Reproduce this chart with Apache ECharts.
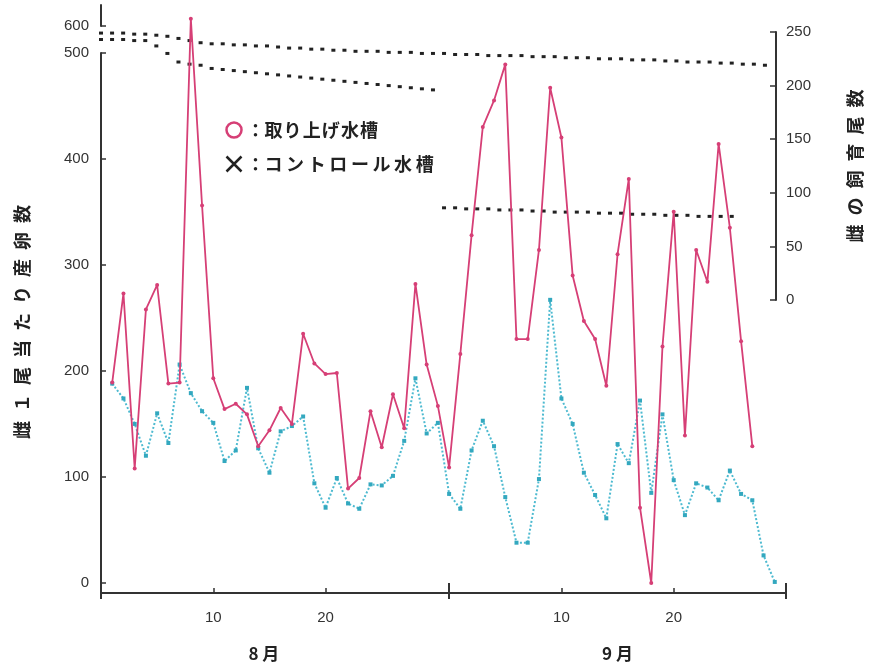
<!DOCTYPE html>
<html>
<head>
<meta charset="utf-8">
<script src="https://cdn.jsdelivr.net/npm/echarts@6/dist/echarts.min.js"></script>
<style>
  html, body { margin: 0; padding: 0; background: #fff; }
  #chart { width: 872px; height: 666px; }
</style>
</head>
<body>
<div id="chart"></div>
<script>
// 通し日: 8/1 = 1 ... 8/31 = 31, 9/1 = 32 ... 9/30 = 61
const xMin = 0
const xMax = 61
const monthEdge = 31
const dayTicks = [10, 20, 41, 51]
const edgeTicks = [0, 31, 61]
const monthLabelPos = [14.5, 46]
const monthLabels = ['8 月', '9 月']
const eggTicks = [0, 100, 200, 300, 400, 500, 600]

// 雌1尾当たり産卵数 (左軸)
const treatFirstDay = 1
const treatEggs = [189, 273, 108, 258, 281, 188, 189, 607, 356, 193, 164, 169, 159, 129, 144, 165,
  150, 235, 207, 197, 198, 89, 99, 162, 128, 178, 146, 282, 206, 167, 109, 216, 328, 430, 455, 489,
  230, 230, 314, 467, 420, 290, 247, 230, 186, 310, 381, 71, 0, 223, 350, 139, 314, 284, 414, 335,
  228, 129]
const ctrlFirstDay = 1
const ctrlEggs = [188, 174, 150, 120, 160, 132, 206, 179, 162, 151, 115, 125, 184, 127, 104, 143,
  148, 157, 94, 71, 99, 75, 70, 93, 92, 101, 134, 193, 141, 151, 84, 70, 125, 153, 129, 81, 38, 38,
  98, 267, 174, 150, 104, 83, 61, 131, 113, 172, 85, 159, 97, 64, 94, 90, 78, 106, 84, 78, 26, 1]

// 雌の飼育尾数 (右軸)
const ctrlFishFirstDay = 0
const ctrlFish = [249, 249, 249, 248, 248, 247, 246, 244, 242, 240, 239, 239, 238, 238, 237, 237,
  236, 235, 235, 234, 234, 233, 233, 232, 232, 232, 231, 231, 231, 230, 230, 230, 229, 229, 229,
  228, 228, 228, 228, 227, 227, 227, 226, 226, 226, 225, 225, 225, 224, 224, 224, 223, 223, 222,
  222, 222, 221, 221, 220, 220, 219]
const treatFishAugFirstDay = 0
const treatFishAug = [243, 243, 243, 242, 242, 237, 230, 222, 220, 219, 216, 215, 214, 213, 212,
  211, 210, 209, 208, 207, 206, 205, 204, 203, 202, 201, 200, 199, 198, 197, 196]
const treatFishSepFirstDay = 31
const treatFishSep = [86, 86, 85, 85, 85, 84, 84, 84, 83, 83, 82, 82, 82, 82, 81, 81, 81, 80, 80,
  80, 79, 79, 79, 78, 78, 78, 78]

const toPoints = (first, vals) => vals.map((v, i) => [first + i, v])

const axisColor = '#333'
const pink = '#d63f76'
const cyan = '#4dbad0'
const numFont = { color: '#333', fontSize: 15, fontFamily: 'Liberation Sans, Arial, sans-serif' }
const jpFont = 'Noto Sans CJK JP'

const chart = echarts.init(document.getElementById('chart'))

const fishSeries = (name, first, vals) => ({
  name,
  type: 'line',
  xAxisIndex: 2,
  yAxisIndex: 1,
  data: toPoints(first, vals),
  symbol: 'rect',
  symbolSize: [4, 3],
  itemStyle: { color: '#222' },
  lineStyle: { width: 0 },
  z: 3
})

// 凡例の文字間を少し広げる
const legendSpacing = { '取り上げ水槽': '\u200A', 'コントロール水槽': '\u2009' }

chart.setOption({
  animation: false,
  grid: [
    { left: 101, right: 86, top: 5, bottom: 83 },
    { left: 101, right: 88, top: 32, bottom: 366 }
  ],
  legend: {
    orient: 'vertical',
    left: 219,
    top: 116,
    itemGap: 15,
    itemWidth: 15,
    itemHeight: 15,
    selectedMode: false,
    textStyle: { fontSize: 18, fontWeight: 'bold', color: '#222', fontFamily: jpFont },
    formatter: name => '：' + name.split('').join(legendSpacing[name]),
    data: [
      { name: '取り上げ水槽', icon: 'circle',
        itemStyle: { color: '#fff', borderColor: pink, borderWidth: 2.5 } },
      { name: 'コントロール水槽', icon: 'path://M0,0L10,10M10,0L0,10',
        itemStyle: { color: 'none', borderColor: '#222', borderWidth: 2.5 } }
    ]
  },
  graphic: [{
    type: 'text',
    x: 22,
    y: 322,
    rotation: Math.PI / 2,
    style: {
      text: '雌\u2002１\u2002尾\u2002当\u2002た\u2002り\u2002産\u2002卵\u2002数',
      align: 'center',
      verticalAlign: 'middle',
      font: 'bold 18px "Noto Sans CJK JP"',
      fill: '#222'
    }
  }],
  xAxis: [
    {
      gridIndex: 0, type: 'value', min: xMin, max: xMax, position: 'bottom', offset: 10,
      axisLine: { onZero: false, lineStyle: { color: axisColor, width: 2 } },
      axisTick: { inside: true, length: 5, customValues: dayTicks, lineStyle: { color: axisColor, width: 1.5 } },
      axisLabel: { customValues: dayTicks, margin: 17, formatter: v => String(v > monthEdge ? v - monthEdge : v), ...numFont },
      splitLine: { show: false }
    },
    {
      gridIndex: 0, type: 'value', min: xMin, max: xMax, position: 'bottom', offset: 10,
      axisLine: { show: false },
      axisTick: { length: 16, customValues: edgeTicks, lineStyle: { color: axisColor, width: 2 } },
      axisLabel: {
        customValues: monthLabelPos, margin: 52,
        formatter: v => monthLabels[monthLabelPos.indexOf(v)],
        fontSize: 17, fontWeight: 'bold', color: '#222', fontFamily: jpFont
      },
      splitLine: { show: false }
    },
    { gridIndex: 1, type: 'value', min: xMin, max: xMax, show: false }
  ],
  yAxis: [
    {
      gridIndex: 0, type: 'value', min: 0, max: 620, position: 'left',
      breaks: [{ start: 500, end: 600, gap: 25 }],
      breakArea: { show: false },
      axisLine: { show: true, onZero: false, lineStyle: { color: axisColor, width: 2 } },
      axisTick: { show: true, inside: true, length: 5, customValues: eggTicks, lineStyle: { color: axisColor, width: 1.5 } },
      axisLabel: { customValues: eggTicks, margin: 12, ...numFont },
      splitLine: { show: false }
    },
    {
      gridIndex: 1, type: 'value', min: 0, max: 250, interval: 50, position: 'right',
      name: '雌\u2002の\u2002飼\u2002育\u2002尾\u2002数',
      nameLocation: 'middle', nameRotate: 90, nameGap: 70,
      nameTextStyle: { fontSize: 18, fontWeight: 'bold', color: '#222', fontFamily: jpFont },
      axisLine: { show: true, onZero: false, lineStyle: { color: axisColor, width: 2 } },
      axisTick: { show: true, inside: true, length: 6, lineStyle: { color: axisColor, width: 1.5 } },
      axisLabel: { margin: 10, ...numFont },
      splitLine: { show: false }
    }
  ],
  series: [
    fishSeries('対照尾数', ctrlFishFirstDay, ctrlFish),
    fishSeries('取り上げ尾数8月', treatFishAugFirstDay, treatFishAug),
    fishSeries('取り上げ尾数9月', treatFishSepFirstDay, treatFishSep),
    {
      name: 'コントロール水槽',
      type: 'line',
      xAxisIndex: 0,
      yAxisIndex: 0,
      data: toPoints(ctrlFirstDay, ctrlEggs),
      symbol: 'rect',
      symbolSize: 4,
      itemStyle: { color: '#33a8bf' },
      lineStyle: { color: cyan, width: 2, type: 'dotted' },
      z: 4
    },
    {
      name: '取り上げ水槽',
      type: 'line',
      xAxisIndex: 0,
      yAxisIndex: 0,
      data: toPoints(treatFirstDay, treatEggs),
      symbol: 'circle',
      symbolSize: 4,
      itemStyle: { color: pink },
      lineStyle: { color: pink, width: 1.8 },
      z: 5
    }
  ]
})
</script>
</body>
</html>
